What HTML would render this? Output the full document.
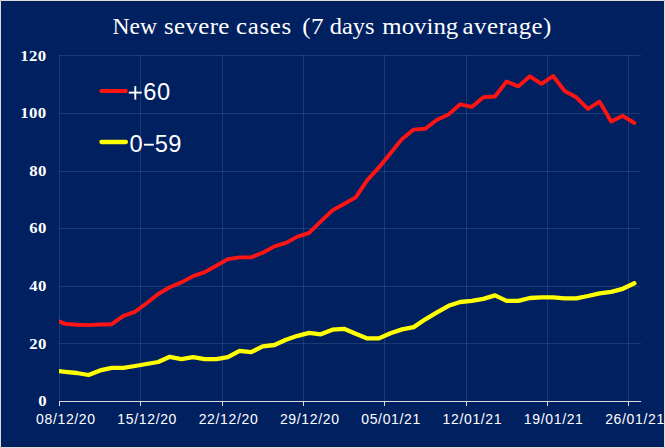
<!DOCTYPE html>
<html><head><meta charset="utf-8"><title>New severe cases</title>
<style>
html,body{margin:0;padding:0;background:#002060;overflow:hidden;}
body{width:665px;height:448px;position:relative;font-family:"Liberation Sans",sans-serif;}
svg{position:absolute;left:0;top:0;display:block;}
text{fill:#fff;}
.title{font-family:"Liberation Serif",serif;font-size:23.5px;}
.yl{font-family:"Liberation Serif",serif;font-weight:bold;font-size:15.5px;letter-spacing:0.35px;}
.xl{font-family:"Liberation Sans",sans-serif;font-size:14px;letter-spacing:0.65px;}
.lg{font-family:"Liberation Sans",sans-serif;font-size:23px;letter-spacing:0px;}
</style></head><body>
<svg width="665" height="448" viewBox="0 0 665 448">
<defs><clipPath id="plot"><rect x="59" y="40" width="590" height="370"/></clipPath></defs>
<rect x="0" y="0" width="665" height="448" fill="#DDDCD6"/>
<rect x="1" y="1" width="663" height="446" fill="#002060"/>
<g shape-rendering="crispEdges"><rect x="59" y="55" width="1" height="346" fill="rgba(255,255,255,0.11)"/><rect x="140" y="55" width="1" height="346" fill="rgba(255,255,255,0.11)"/><rect x="222" y="55" width="1" height="346" fill="rgba(255,255,255,0.11)"/><rect x="303" y="55" width="1" height="346" fill="rgba(255,255,255,0.11)"/><rect x="384" y="55" width="1" height="346" fill="rgba(255,255,255,0.11)"/><rect x="466" y="55" width="1" height="346" fill="rgba(255,255,255,0.11)"/><rect x="547" y="55" width="1" height="346" fill="rgba(255,255,255,0.11)"/><rect x="628" y="55" width="1" height="346" fill="rgba(255,255,255,0.11)"/><rect x="59" y="55" width="582" height="1" fill="rgba(255,255,255,0.11)"/><rect x="59" y="113" width="582" height="1" fill="rgba(255,255,255,0.11)"/><rect x="59" y="171" width="582" height="1" fill="rgba(255,255,255,0.11)"/><rect x="59" y="228" width="582" height="1" fill="rgba(255,255,255,0.11)"/><rect x="59" y="286" width="582" height="1" fill="rgba(255,255,255,0.11)"/><rect x="59" y="343" width="582" height="1" fill="rgba(255,255,255,0.11)"/><rect x="59" y="401" width="582" height="1" fill="#DCDCDC"/><rect x="59" y="401" width="1" height="5" fill="#DCDCDC"/><rect x="140" y="401" width="1" height="5" fill="#DCDCDC"/><rect x="222" y="401" width="1" height="5" fill="#DCDCDC"/><rect x="303" y="401" width="1" height="5" fill="#DCDCDC"/><rect x="384" y="401" width="1" height="5" fill="#DCDCDC"/><rect x="466" y="401" width="1" height="5" fill="#DCDCDC"/><rect x="547" y="401" width="1" height="5" fill="#DCDCDC"/><rect x="628" y="401" width="1" height="5" fill="#DCDCDC"/></g>
<g clip-path="url(#plot)" fill="none" stroke-width="3.9" stroke-linejoin="round" stroke-linecap="round">
<polyline stroke="#FFFF00" stroke-width="4.3" points="53.7,370.7 65.3,371.8 76.9,373.0 88.5,375.0 100.1,370.4 111.8,367.8 123.4,367.8 135.0,366.0 146.6,364.0 158.2,362.0 169.8,356.8 181.4,359.1 193.1,357.1 204.7,359.1 216.3,359.1 227.9,357.1 239.5,350.8 251.1,352.2 262.7,346.4 274.4,345.0 286.0,339.8 297.6,335.8 309.2,332.9 320.8,334.3 332.4,329.7 344.0,328.8 355.7,333.7 367.3,338.4 378.9,338.4 390.5,333.2 402.1,329.4 413.7,327.1 425.3,319.3 437.0,312.4 448.6,305.8 460.2,302.0 471.8,300.9 483.4,298.9 495.0,295.4 506.6,300.9 518.3,300.9 529.9,298.0 541.5,297.4 553.1,297.4 564.7,298.3 576.3,298.3 587.9,296.0 599.6,293.4 611.2,291.9 622.8,288.8 634.4,283.3"/>
<polyline stroke="#FF1414" points="53.7,319.3 65.3,323.9 76.9,324.8 88.5,325.1 100.1,324.5 111.8,324.2 123.4,315.9 135.0,311.8 146.6,303.2 158.2,294.0 169.8,287.3 181.4,282.4 193.1,276.1 204.7,272.1 216.3,265.7 227.9,259.1 239.5,257.4 251.1,257.4 262.7,252.7 274.4,246.4 286.0,242.9 297.6,236.6 309.2,232.8 320.8,221.3 332.4,210.4 344.0,204.0 355.7,197.4 367.3,180.1 378.9,167.4 390.5,153.3 402.1,138.9 413.7,129.6 425.3,128.8 437.0,119.8 448.6,114.4 460.2,104.3 471.8,106.9 483.4,97.3 495.0,96.5 506.6,81.5 518.3,86.4 529.9,76.3 541.5,83.8 553.1,76.0 564.7,91.0 576.3,97.3 587.9,108.9 599.6,101.7 611.2,121.6 622.8,115.8 634.4,123.0"/>
</g>
<g fill="none" stroke-width="3.9" stroke-linecap="round">
<line x1="101.3" y1="90.95" x2="125.8" y2="90.95" stroke="#FF1414"/>
<line x1="101.4" y1="142.0" x2="125.9" y2="142.0" stroke="#FFFF00" stroke-width="4.3"/>
</g>
<text transform="translate(112.50,34.4) scale(1.0045,1)" class="title" style="letter-spacing:0.000px">New</text><text transform="translate(163.94,34.4) scale(1.06,1)" class="title" style="letter-spacing:0.351px">severe</text><text transform="translate(236.04,34.4) scale(1.06,1)" class="title" style="letter-spacing:0.642px">cases</text><text transform="translate(302.34,34.4) scale(1.06,1)" class="title" style="letter-spacing:0.396px">(7</text><text transform="translate(329.76,34.4) scale(1.0405,1)" class="title" style="letter-spacing:-0.000px">days</text><text transform="translate(382.30,34.4) scale(1.0583,1)" class="title" style="letter-spacing:0.000px">moving</text><text transform="translate(462.54,34.4) scale(1.06,1)" class="title" style="letter-spacing:0.426px">average)</text>
<text transform="translate(47.0,405.8) scale(1.08,1)" text-anchor="end" class="yl">0</text><text transform="translate(46.8,349.1) scale(1.08,1)" text-anchor="end" class="yl">20</text><text transform="translate(46.8,291.1) scale(1.08,1)" text-anchor="end" class="yl">40</text><text transform="translate(46.8,233.1) scale(1.08,1)" text-anchor="end" class="yl">60</text><text transform="translate(46.8,176.0) scale(1.08,1)" text-anchor="end" class="yl">80</text><text transform="translate(46.4,117.9) scale(1.08,1)" text-anchor="end" class="yl">100</text><text transform="translate(46.4,61.1) scale(1.08,1)" text-anchor="end" class="yl">120</text>
<g><text x="65.9" y="424" text-anchor="middle" class="xl">08/12/20</text><text x="147.2" y="424" text-anchor="middle" class="xl">15/12/20</text><text x="228.5" y="424" text-anchor="middle" class="xl">22/12/20</text><text x="309.8" y="424" text-anchor="middle" class="xl">29/12/20</text><text x="391.1" y="424" text-anchor="middle" class="xl">05/01/21</text><text x="472.4" y="424" text-anchor="middle" class="xl">12/01/21</text><text x="553.7" y="424" text-anchor="middle" class="xl">19/01/21</text><text x="635.0" y="424" text-anchor="middle" class="xl">26/01/21</text></g>
<text transform="translate(143.20,100.45) scale(1.03,1)" class="lg">6</text><text transform="translate(156.97,100.45) scale(1.03,1)" class="lg">0</text><text transform="translate(129.57,152.10) scale(1.03,1)" class="lg">0</text><text transform="translate(154.65,152.10) scale(1.03,1)" class="lg">5</text><text transform="translate(168.19,152.10) scale(1.03,1)" class="lg">9</text><g stroke="#fff" stroke-width="1.9" fill="none"><line x1="128.8" y1="92.6" x2="141.8" y2="92.6"/><line x1="135.3" y1="86.1" x2="135.3" y2="99.6"/><line x1="143.9" y1="144.7" x2="153.8" y2="144.7"/></g>
<rect x="664" y="0" width="1" height="448" fill="#DDDCD6"/>
<g fill="#B0B7C8"><rect x="0" y="0" width="1" height="1"/><rect x="664" y="0" width="1" height="1"/><rect x="0" y="447" width="1" height="1"/><rect x="664" y="447" width="1" height="1"/></g>
</svg>
</body></html>
